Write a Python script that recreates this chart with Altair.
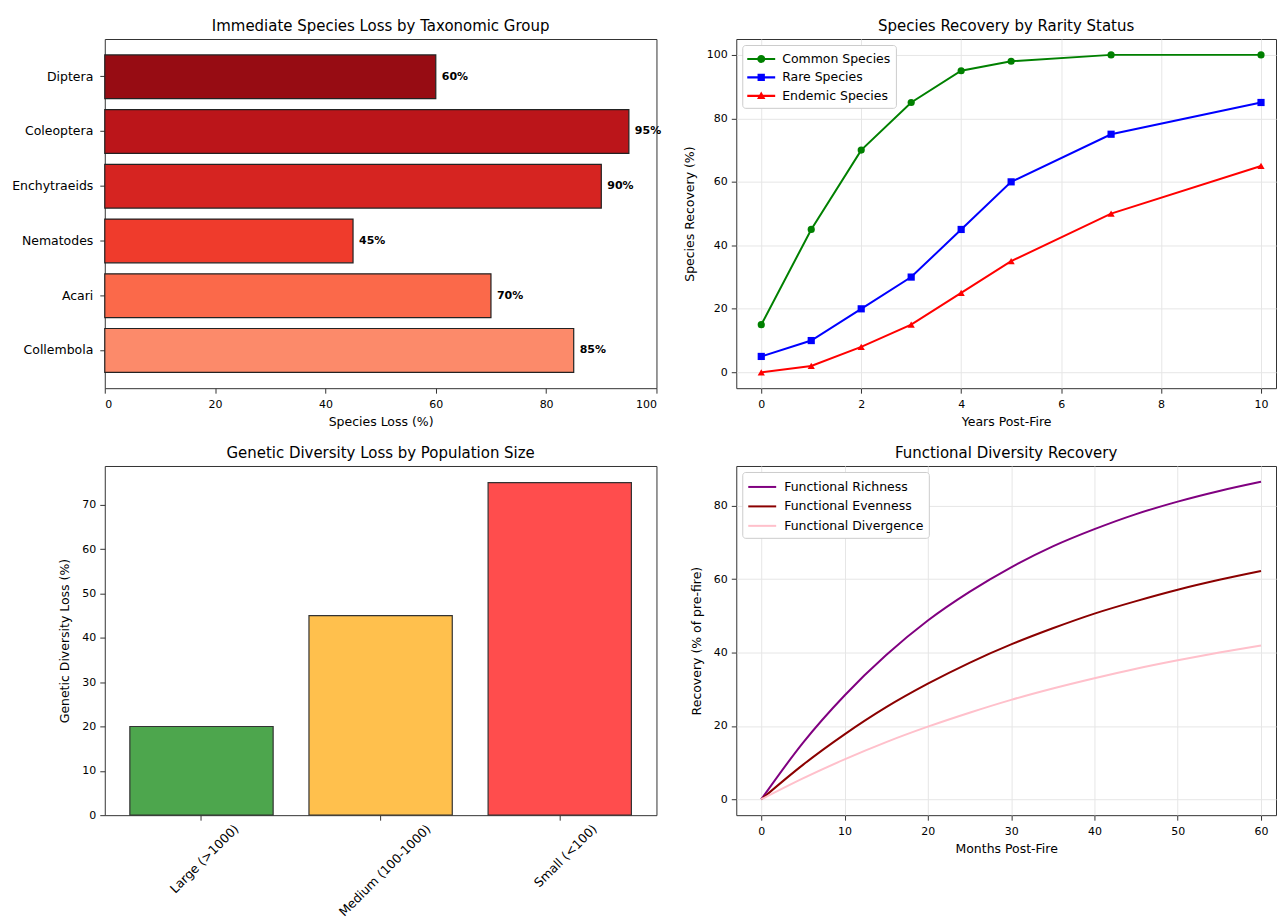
import altair as alt
import pandas as pd

FONT = "DejaVu Sans"

# ---- Panel 1: Immediate species loss ----
taxa = ["Collembola", "Acari", "Nematodes", "Enchytraeids", "Coleoptera", "Diptera"]
species_loss = [85, 70, 45, 90, 95, 60]
taxa_colors = ["#fc8a6a", "#fb694a", "#ef3b2c", "#d62421", "#bb151a", "#970c13"]

# ---- Panel 2: Species recovery by rarity ----
years = [0, 1, 2, 3, 4, 5, 7, 10]
common = [15, 45, 70, 85, 95, 98, 100, 100]
rare = [5, 10, 20, 30, 45, 60, 75, 85]
endemic = [0, 2, 8, 15, 25, 35, 50, 65]
rarity_names = ["Common Species", "Rare Species", "Endemic Species"]
rarity_colors = ["#008000", "#0000ff", "#ff0000"]
rarity_shapes = ["circle", "square", "triangle-up"]
# legend glyphs: short line segment with the marker on it
legend_glyphs = [
    "M-1.6,-0.12H1.6V0.12H-1.6Z M0.46,0 A0.46,0.46 0 1,1 -0.46,0 A0.46,0.46 0 1,1 0.46,0 Z",
    "M-1.6,-0.12H1.6V0.12H-1.6Z M-0.42,-0.42H0.42V0.42H-0.42Z",
    "M-1.6,-0.12H1.6V0.12H-1.6Z M0,-0.5L0.48,0.36L-0.48,0.36Z",
]
line_glyph = "M-1.6,0H1.6"

# ---- Panel 3: Genetic diversity loss ----
pop_sizes = ["Large (>1000)", "Medium (100-1000)", "Small (<100)"]
genetic_loss = [20, 45, 75]
pop_colors = ["#4da64d", "#ffc04d", "#ff4d4d"]

# ---- Panel 4: Functional diversity recovery ----
months = [0, 5, 10, 15, 20, 25, 30, 35, 40, 45, 50, 55, 60]
richness = [0, 15.4, 28.3, 39.3, 48.7, 56.5, 63.2, 68.9, 73.6, 77.7, 81.1, 84.0, 86.5]
evenness = [0, 9.4, 17.7, 25.1, 31.5, 37.2, 42.2, 46.6, 50.6, 54.0, 57.1, 59.8, 62.2]
divergence = [0, 5.7, 10.9, 15.6, 19.8, 23.6, 27.1, 30.2, 33.0, 35.6, 37.9, 40.0, 41.9]
func_names = ["Functional Richness", "Functional Evenness", "Functional Divergence"]
func_colors = ["#800080", "#8b0000", "#ffc0cb"]

W_L, W_R, H = 553, 541, 350
NUM = 11
AX_T = 12.5
XPAD = dict(labelPadding=5, titlePadding=6)
YPAD = dict(labelPadding=4, titlePadding=10)

# Panel 1
df1 = pd.DataFrame({"taxon": taxa, "loss": species_loss,
                    "label": [f"{v}%" for v in species_loss]})
y1 = alt.Y("taxon:N", sort=taxa[::-1],
           scale=alt.Scale(paddingInner=0.2, paddingOuter=0.29),
           axis=alt.Axis(title=None, labelPadding=7, labelFontSize=12.5))
bars1 = alt.Chart(df1).mark_bar(stroke="#222", strokeWidth=1.2).encode(
    x=alt.X("loss:Q", scale=alt.Scale(domain=[0, 100], nice=False),
            axis=alt.Axis(values=[0, 20, 40, 60, 80, 100], title="Species Loss (%)",
                          grid=False, **XPAD)),
    y=y1,
    color=alt.Color("taxon:N", scale=alt.Scale(domain=taxa, range=taxa_colors), legend=None),
)
text1 = alt.Chart(df1).mark_text(align="left", baseline="middle", dx=6, fontWeight="bold",
                                 fontSize=11, font=FONT, color="black").encode(
    x="loss:Q", y=y1, text="label:N")
p1 = alt.layer(bars1, text1).properties(width=W_L, height=H,
                                        title="Immediate Species Loss by Taxonomic Group")

# Panel 2
rows = []
for name, vals in zip(rarity_names, [common, rare, endemic]):
    for yr, v in zip(years, vals):
        rows.append({"series": name, "year": yr, "value": v})
df2 = pd.DataFrame(rows)
x2 = alt.X("year:Q", scale=alt.Scale(domain=[-0.5, 10.3], nice=False),
           axis=alt.Axis(values=[0, 2, 4, 6, 8, 10], title="Years Post-Fire", grid=True, **XPAD))
y2 = alt.Y("value:Q", scale=alt.Scale(domain=[-5, 105], nice=False),
           axis=alt.Axis(values=[0, 20, 40, 60, 80, 100], title="Species Recovery (%)",
                         grid=True, **YPAD))
leg2 = alt.Legend(title=None, orient="top-left", offset=6, symbolSize=306,
                  symbolOpacity=1, symbolStrokeWidth=0, rowPadding=2.5,
                  symbolOffset=5, labelOffset=12)
col2 = alt.Color("series:N", scale=alt.Scale(domain=rarity_names, range=rarity_colors),
                 legend=leg2)
shp2 = alt.Shape("series:N", scale=alt.Scale(domain=rarity_names, range=legend_glyphs),
                 legend=leg2)
lines2 = alt.Chart(df2).mark_line(strokeWidth=2).encode(x=x2, y=y2, color=col2)
legend_layer = alt.Chart(df2).mark_point(filled=True, opacity=0).encode(
    x=x2, y=y2, color=col2, shape=shp2)
pt_layers = []
for name, shp in zip(rarity_names, rarity_shapes):
    pt_layers.append(
        alt.Chart(df2).transform_filter(alt.datum.series == name)
        .mark_point(filled=True, size=52, opacity=1, shape=shp)
        .encode(x=x2, y=y2, color=col2)
    )
p2 = alt.layer(lines2, *pt_layers, legend_layer).properties(
    width=W_R, height=H, title="Species Recovery by Rarity Status")

# Panel 3
df3 = pd.DataFrame({"pop": pop_sizes, "loss": genetic_loss})
p3 = alt.Chart(df3).mark_bar(stroke="#333", strokeWidth=1.2).encode(
    x=alt.X("pop:N", sort=pop_sizes, scale=alt.Scale(paddingInner=0.2, paddingOuter=0.14),
            axis=alt.Axis(title=None, labelAngle=-45, labelAlign="right", labelBaseline="top",
                          labelFontSize=12.5, labelPadding=2,
                          labelOffset={"condition": {"test": "datum.value === 'Medium (100-1000)'",
                                                     "value": 44}, "value": 31})),
    y=alt.Y("loss:Q", scale=alt.Scale(domain=[0, 78.75], nice=False),
            axis=alt.Axis(values=[0, 10, 20, 30, 40, 50, 60, 70],
                          title="Genetic Diversity Loss (%)", grid=False, **YPAD)),
    color=alt.Color("pop:N", scale=alt.Scale(domain=pop_sizes, range=pop_colors), legend=None),
).properties(width=W_L, height=H, title="Genetic Diversity Loss by Population Size")

# Panel 4
rows = []
for name, vals in zip(func_names, [richness, evenness, divergence]):
    for m, v in zip(months, vals):
        rows.append({"fseries": name, "month": m, "value": v})
df4 = pd.DataFrame(rows)
p4 = alt.Chart(df4).mark_line(strokeWidth=2, interpolate="monotone").encode(
    x=alt.X("month:Q", scale=alt.Scale(domain=[-3, 61.8], nice=False),
            axis=alt.Axis(values=[0, 10, 20, 30, 40, 50, 60], title="Months Post-Fire",
                          grid=True, **XPAD)),
    y=alt.Y("value:Q", scale=alt.Scale(domain=[-4.3, 90.8], nice=False),
            axis=alt.Axis(values=[0, 20, 40, 60, 80], title="Recovery (% of pre-fire)",
                          grid=True, **YPAD)),
    color=alt.Color("fseries:N", scale=alt.Scale(domain=func_names, range=func_colors),
                    legend=alt.Legend(title=None, orient="top-left", offset=6,
                                      symbolType=line_glyph, symbolStrokeWidth=2,
                                      symbolSize=306, rowPadding=2.5,
                                      symbolOffset=5, labelOffset=12)),
).properties(width=W_R, height=H, title="Functional Diversity Recovery")

chart = alt.concat(p1, p2, p3, p4, columns=2, spacing={"row": 78, "column": 80},
                   bounds="flush").resolve_scale(
    color="independent", shape="independent"
).resolve_legend(
    color="independent", shape="independent"
).configure_view(
    stroke="#333", strokeWidth=1
).configure_axis(
    domain=False, labelFont=FONT, titleFont=FONT, labelFontSize=NUM, titleFontSize=AX_T,
    titleFontWeight="normal", labelColor="black", titleColor="black",
    tickColor="#333", tickSize=5, gridColor="#e6e6e6", gridWidth=1
).configure_title(
    font=FONT, fontSize=15, fontWeight="normal", color="black", anchor="middle", offset=5
).configure_legend(
    labelFont=FONT, labelFontSize=12.5, labelColor="black", fillColor="white",
    strokeColor="#cccccc", padding=5, cornerRadius=3
).properties(padding={"left": 3, "top": 9, "right": 0, "bottom": 0})

chart.save("out.html", embed_options={"renderer": "svg", "actions": False})
